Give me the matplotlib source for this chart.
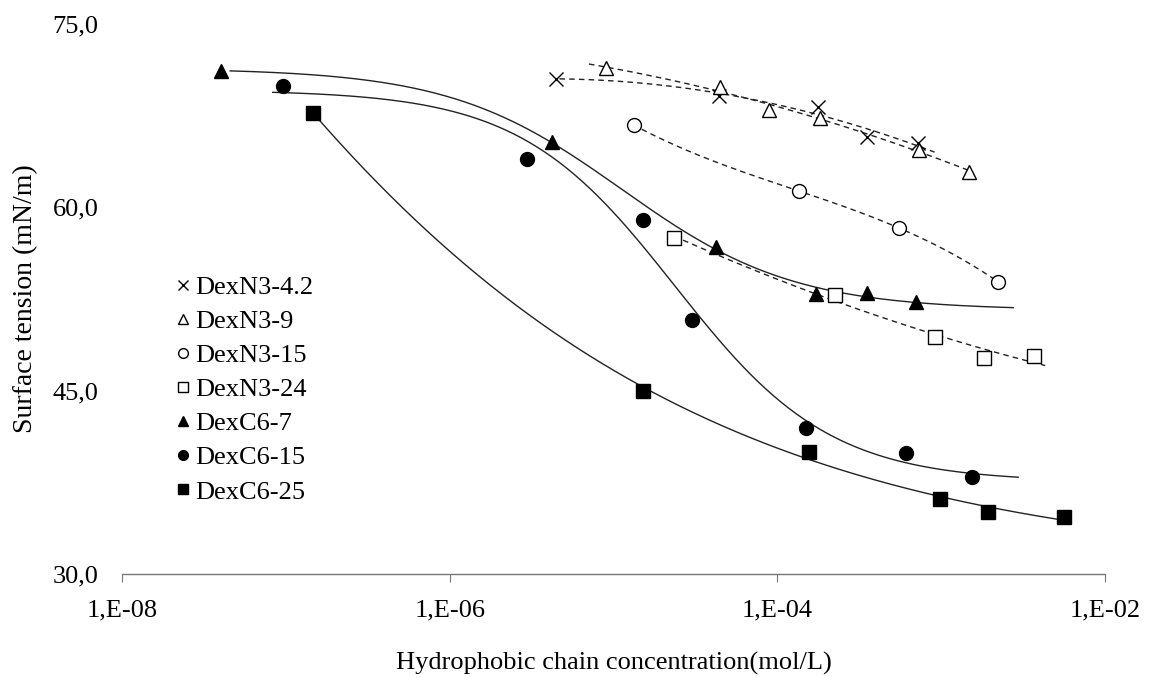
import numpy as np
import matplotlib
matplotlib.use("Agg")
import matplotlib.pyplot as plt
from matplotlib.ticker import FixedLocator, NullLocator

plt.rcParams['font.family'] = ['Liberation Serif', 'DejaVu Serif']

# data (x in mol/L, y in mN/m)
n3_42_x = [4.45e-6, 4.42e-5, 1.78e-4, 3.55e-4, 7.18e-4]
n3_42_y = [70.5, 69.1, 68.2, 65.7, 65.2]

n3_9_x = [9.0e-6, 4.48e-5, 8.93e-5, 1.81e-4, 7.28e-4, 1.47e-3]
n3_9_y = [71.4, 69.8, 67.9, 67.3, 64.7, 62.9]

n3_15_x = [1.33e-5, 1.36e-4, 5.50e-4, 2.22e-3]
n3_15_y = [66.7, 61.3, 58.3, 53.9]

n3_24_x = [2.34e-5, 2.26e-4, 9.12e-4, 1.82e-3, 3.68e-3]
n3_24_y = [57.5, 52.8, 49.4, 47.7, 47.8]

c6_7_x = [4.03e-8, 4.21e-6, 4.24e-5, 1.71e-4, 3.55e-4, 6.98e-4]
c6_7_y = [71.1, 65.3, 56.7, 52.9, 53.0, 52.2]

c6_15_x = [9.66e-8, 2.96e-6, 1.51e-5, 3.02e-5, 1.50e-4, 6.07e-4, 1.54e-3]
c6_15_y = [69.9, 63.9, 58.9, 50.8, 41.9, 39.9, 37.9]

c6_25_x = [1.47e-7, 1.51e-5, 1.55e-4, 9.79e-4, 1.92e-3, 5.61e-3]
c6_25_y = [67.7, 45.0, 40.0, 36.1, 35.1, 34.7]

labels = ['DexN3-4.2', 'DexN3-9', 'DexN3-15', 'DexN3-24', 'DexC6-7', 'DexC6-15', 'DexC6-25']

# trend line ranges (log10 x) and fit kind: int = polynomial degree, 'b' = sigmoid
fit_lo = [-5.33, -5.15, -4.88, -4.575, -7.34, -7.08, -6.82]
fit_hi = [-3.04, -2.805, -2.62, -2.365, -2.56, -2.53, -2.25]
fit_kind = [2, 2, 3, 2, 'b', 'b', 'b']

xticks = [1e-8, 1e-6, 1e-4, 1e-2]
xticklabels = ['1,E-08', '1,E-06', '1,E-04', '1,E-02']
yticks = [30, 45, 60, 75]
yticklabels = ['30,0', '45,0', '60,0', '75,0']


def sigmoid_fit(lx, y):
    # boltzmann in log10(x): grid over centre/width, least squares for the plateaus
    lx = np.asarray(lx)
    y = np.asarray(y)
    best = None
    for x0 in np.linspace(-9, -2, 281):
        for dx in np.linspace(0.1, 3.0, 117):
            s = 1 / (1 + np.exp((lx - x0) / dx))
            A = np.column_stack([s, 1 - s])
            c = np.linalg.lstsq(A, y, rcond=None)[0]
            err = np.sum((A @ c - y) ** 2)
            if best is None or err < best[0]:
                best = (err, x0, dx, c)
    _, x0, dx, c = best
    return lambda g: c[0] / (1 + np.exp((g - x0) / dx)) + c[1] * (1 - 1 / (1 + np.exp((g - x0) / dx)))


series = [(n3_42_x, n3_42_y), (n3_9_x, n3_9_y), (n3_15_x, n3_15_y), (n3_24_x, n3_24_y),
          (c6_7_x, c6_7_y), (c6_15_x, c6_15_y), (c6_25_x, c6_25_y)]
markers = ['x', '^', 'o', 's', '^', 'o', 's']
filled = [False, False, False, False, True, True, True]

fig = plt.figure(figsize=(11.49, 6.77), dpi=100)
ax = fig.add_axes([0.1062, 0.152, 0.8555, 0.8133])

handles = []
for i, (xs, ys) in enumerate(series):
    lx = np.log10(xs)
    gx = np.linspace(fit_lo[i], fit_hi[i], 300)
    if fit_kind[i] == 'b':
        gy = sigmoid_fit(lx, ys)(gx)
    else:
        gy = np.polyval(np.polyfit(lx, ys, fit_kind[i]), gx)
    ls = '-' if filled[i] else (0, (4, 3))
    ax.plot(10 ** gx, gy, color='#222222', lw=1.0, ls=ls, zorder=2)
    fc = 'black' if filled[i] else 'white'
    h, = ax.plot(xs, ys, ls='none', marker=markers[i], ms=10, mfc=fc, mec='black',
                 mew=1.0, label=labels[i], zorder=3)
    handles.append(h)

ax.set_xscale('log')
ax.set_xlim(1e-8, 1e-2)
ax.set_ylim(30, 75)
ax.xaxis.set_major_locator(FixedLocator(xticks))
ax.xaxis.set_minor_locator(NullLocator())
ax.set_xticklabels(xticklabels)
ax.set_yticks(yticks)
ax.set_yticklabels(yticklabels)

for s in ['top', 'right', 'left']:
    ax.spines[s].set_visible(False)
ax.spines['bottom'].set_color('#777777')
ax.spines['bottom'].set_linewidth(1.0)
ax.tick_params(axis='x', direction='out', length=6, color='#777777', labelsize=19, pad=12)
ax.tick_params(axis='y', length=0, labelsize=19, pad=17)

ax.set_xlabel('Hydrophobic chain concentration(mol/L)', fontsize=19, labelpad=22)
ax.set_ylabel('Surface tension (mN/m)', fontsize=20, labelpad=10)

leg = ax.legend(handles=handles, loc='upper left', bbox_to_anchor=(0.141, 0.612),
                bbox_transform=fig.transFigure, frameon=False, fontsize=19,
                handlelength=0.6, handletextpad=0.15, labelspacing=0.4,
                borderpad=0, markerscale=0.7)

fig.savefig('out.png', dpi=100)
